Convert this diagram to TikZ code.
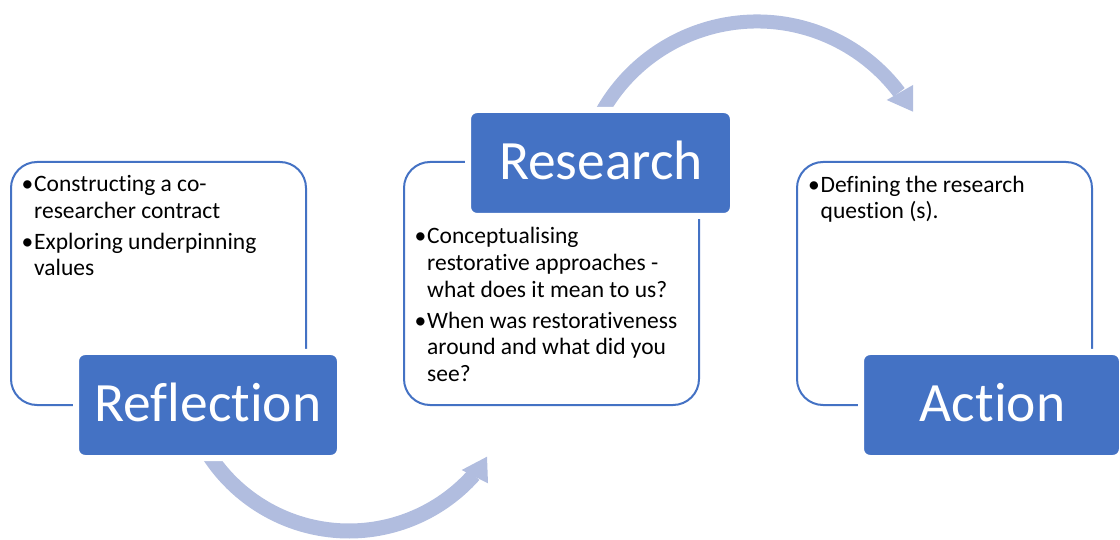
\documentclass[tikz,border=0pt]{standalone}
\usepackage{fontspec}
\setmainfont{Carlito}[Ligatures={NoCommon,NoContextual}]

\definecolor{accent}{RGB}{68,114,196}
\definecolor{arrowtint}{RGB}{177,189,223}

% one bullet point with a hanging indent
\newcommand\notepoint[1]{\par\noindent\hangindent=12.5pt\hangafter=1\makebox[12.5pt][l]{•}#1}
% a block of bullet points whose baseline is its first line
\newcommand\notelist[1]{\parbox[t]{285pt}{\fontsize{23.5}{26.7}\selectfont\setlength\parskip{4pt}#1}}

\tikzset{
  frame/.style={draw=accent, fill=white, line width=2pt, rounded corners=26pt,
    minimum width=295pt, minimum height=243pt, inner sep=0pt},
  stage/.style={fill=accent, draw=white, line width=6pt, rounded corners=9pt,
    minimum height=106pt, inner sep=0pt},
  stagelabel/.style={text=white, font=\fontsize{55.5}{66}\selectfont, inner sep=0pt, anchor=base},
  notes/.style={anchor=base west, inner sep=0pt},
  cyclearc/.style={draw=arrowtint, line width=15pt},
  cyclehead/.style={fill=arrowtint},
}

\begin{document}
\begin{tikzpicture}[x=1pt, y=1pt]
\useasboundingbox (0,0) rectangle (1120,539);

% curved cycle arrows
\coordinate (lowhub) at (349,175);
\coordinate (highhub) at (757,339.5);
\draw[cyclearc] (lowhub) ++(205:167pt) arc[start angle=205, end angle=318.4, radius=167pt];
\fill[cyclehead] (461.7,69) -- (487,82.3) -- (488,55.7) -- cycle;
\draw[cyclearc, line width=14pt] (highhub) ++(155:178pt) arc[start angle=155, end angle=37, radius=178pt];
\fill[cyclehead] (886.7,439) -- (913,454) -- (913,427.3) -- cycle;

% outlined boxes holding the notes
\node[frame] (reflectframe) at (158.5,255.5) {};
\node[frame] (researchframe) at (551.5,255.5) {};
\node[frame] (actionframe) at (944.5,255.5) {};

% filled stage boxes
\node[stage, minimum width=264pt] (reflect) at (208,134) {};
\node[stage, minimum width=265pt] (research) at (600.5,376) {};
\node[stage, minimum width=261pt] (action) at (991.5,134) {};

\node[stagelabel] (reflecttext) at (208,117.3) {Reflection};
\node[stagelabel] (researchtext) at (601,359) {Research};
\node[stagelabel] (actiontext) at (992.5,117.3) {Action};

% bullet notes
\node[notes] (reflectnotes) at (21.5,347.3) {\notelist{%
  \notepoint{Constructing a co-\\researcher contract}
  \notepoint{Exploring underpinning\\values}}};
\node[notes] (researchnotes) at (414.5,295) {\notelist{%
  \notepoint{Conceptualising\\restorative approaches -\\what does it mean to us?}
  \notepoint{When was restorativeness\\around and what did you\\see?}}};
\node[notes] (actionnotes) at (808,346.7) {\notelist{%
  \notepoint{Defining the research\\question (s).}}};
\end{tikzpicture}
\end{document}
